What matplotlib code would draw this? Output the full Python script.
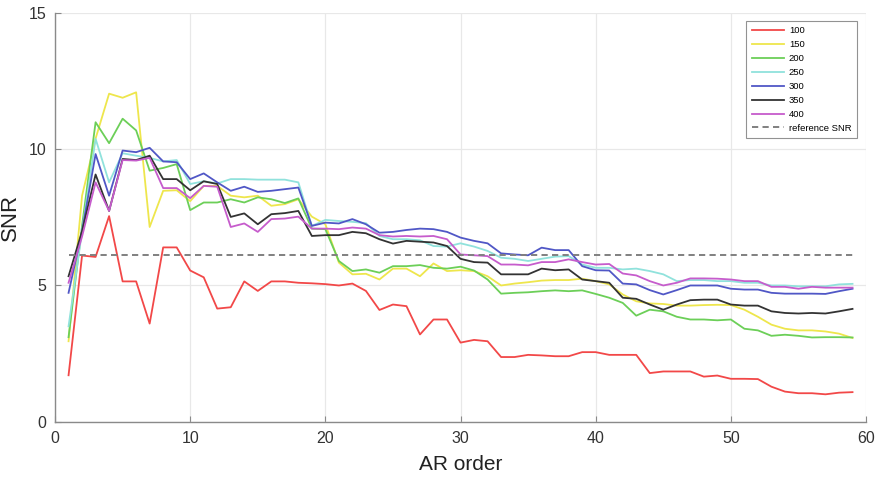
import numpy as np
import matplotlib
matplotlib.use("Agg")
import matplotlib.pyplot as plt

plt.rcParams['font.family'] = ['Liberation Sans', 'DejaVu Sans']

ar_order = list(range(1, 60))

snr_100 = [1.7, 6.1, 6.05, 7.55, 5.15, 5.15, 3.6, 6.4, 6.4, 5.55,
           5.3, 4.15, 4.2, 5.15, 4.8, 5.15, 5.15, 5.1, 5.08, 5.05,
           5.0, 5.07, 4.8, 4.1, 4.3, 4.24, 3.2, 3.75, 3.75, 2.9,
           3.0, 2.95, 2.37, 2.37, 2.45, 2.43, 2.4, 2.4, 2.55, 2.55,
           2.45, 2.45, 2.45, 1.78, 1.84, 1.84, 1.84, 1.65, 1.69, 1.57,
           1.57, 1.56, 1.28, 1.1, 1.04, 1.04, 1.0, 1.06, 1.08]
snr_150 = [2.95, 8.3, 10.4, 12.05, 11.9, 12.1, 7.15, 8.48, 8.5, 8.1,
           8.66, 8.66, 8.3, 8.24, 8.3, 7.93, 7.99, 8.17, 7.53, 7.25,
           5.84, 5.41, 5.43, 5.22, 5.62, 5.62, 5.34, 5.81, 5.53, 5.56,
           5.53, 5.34, 5.0, 5.07, 5.12, 5.18, 5.2, 5.2, 5.25, 5.16,
           5.04, 4.67, 4.42, 4.34, 4.32, 4.26, 4.26, 4.28, 4.29, 4.28,
           4.11, 3.85, 3.56, 3.41, 3.35, 3.35, 3.31, 3.23, 3.07]
snr_200 = [3.1, 7.2, 11.0, 10.23, 11.13, 10.7, 9.22, 9.32, 9.46, 7.77,
           8.05, 8.05, 8.17, 8.05, 8.24, 8.17, 8.03, 8.2, 7.09, 7.07,
           5.9, 5.53, 5.59, 5.47, 5.71, 5.71, 5.75, 5.65, 5.62, 5.69,
           5.55, 5.22, 4.7, 4.73, 4.75, 4.79, 4.82, 4.79, 4.82, 4.69,
           4.55, 4.36, 3.89, 4.11, 4.05, 3.85, 3.75, 3.75, 3.72, 3.75,
           3.41, 3.35, 3.15, 3.19, 3.15, 3.09, 3.1, 3.1, 3.09]
snr_250 = [3.5, 7.0, 10.39, 8.79, 9.86, 9.77, 9.69, 9.56, 9.61, 8.73,
           8.83, 8.75, 8.91, 8.91, 8.89, 8.89, 8.89, 8.79, 7.19, 7.41,
           7.37, 7.34, 7.29, 6.82, 6.7, 6.7, 6.66, 6.45, 6.43, 6.55,
           6.43, 6.27, 6.02, 5.98, 5.9, 5.98, 6.06, 6.08, 5.77, 5.65,
           5.65, 5.59, 5.62, 5.53, 5.41, 5.16, 5.2, 5.2, 5.16, 5.16,
           5.1, 5.1, 5.0, 5.0, 4.97, 4.97, 4.97, 5.04, 5.06]
snr_300 = [4.73, 7.0, 9.83, 8.3, 9.96, 9.9, 10.06, 9.56, 9.53, 8.91,
           9.12, 8.79, 8.48, 8.63, 8.44, 8.48, 8.54, 8.6, 7.19, 7.31,
           7.28, 7.44, 7.25, 6.94, 6.97, 7.04, 7.09, 7.07, 6.97, 6.76,
           6.64, 6.55, 6.18, 6.14, 6.11, 6.39, 6.3, 6.3, 5.71, 5.56,
           5.55, 5.07, 5.04, 4.83, 4.67, 4.83, 5.0, 5.0, 5.0, 4.88,
           4.85, 4.85, 4.73, 4.7, 4.7, 4.7, 4.69, 4.79, 4.88]
snr_350 = [5.34, 7.0, 9.08, 7.74, 9.65, 9.61, 9.77, 8.91, 8.91, 8.5,
           8.83, 8.73, 7.52, 7.65, 7.25, 7.62, 7.66, 7.74, 6.82, 6.85,
           6.85, 6.97, 6.92, 6.7, 6.54, 6.64, 6.61, 6.58, 6.45, 5.98,
           5.86, 5.84, 5.41, 5.41, 5.41, 5.62, 5.56, 5.59, 5.22, 5.16,
           5.1, 4.55, 4.51, 4.3, 4.11, 4.3, 4.46, 4.48, 4.48, 4.3,
           4.26, 4.26, 4.05, 3.99, 3.97, 3.99, 3.97, 4.05, 4.14]
snr_400 = [5.1, 6.8, 8.79, 7.74, 9.61, 9.59, 9.69, 8.58, 8.58, 8.21,
           8.66, 8.63, 7.15, 7.28, 6.97, 7.44, 7.46, 7.53, 7.09, 7.09,
           7.07, 7.13, 7.09, 6.85, 6.8, 6.82, 6.8, 6.82, 6.7, 6.14,
           6.11, 6.08, 5.77, 5.77, 5.74, 5.86, 5.86, 5.96, 5.86, 5.77,
           5.79, 5.44, 5.37, 5.16, 5.0, 5.1, 5.26, 5.26, 5.25, 5.22,
           5.16, 5.16, 4.95, 4.95, 4.88, 4.95, 4.92, 4.92, 4.92]

series_labels = ['100', '150', '200', '250', '300', '350', '400']
series_colors = ['#f24848', '#eee64c', '#6ccf58', '#90e2dc', '#5057c6', '#333333', '#c65ccc']
reference_snr = 6.12
reference_label = 'reference SNR'

x_ticks = [0, 10, 20, 30, 40, 50, 60]
y_ticks = [0, 5, 10, 15]

fig = plt.figure(figsize=(8.82, 4.79), dpi=100)
ax = fig.add_axes([0.0624, 0.120, 0.9195, 0.852])

all_series = [snr_100, snr_150, snr_200, snr_250, snr_300, snr_350, snr_400]
for vals, lab, col in zip(all_series, series_labels, series_colors):
    ax.plot(ar_order, vals, color=col, lw=1.3, label=lab)

ax.plot([ar_order[0], ar_order[-1]], [reference_snr, reference_snr],
        color='#808080', lw=1.4, linestyle=(0, (3.2, 2.2)), label=reference_label)

ax.set_xlim(0, 60)
ax.set_ylim(0, 15)
ax.set_xticks(x_ticks)
ax.set_yticks(y_ticks)
ax.grid(True, color='#e8e8e8', lw=0.9)
ax.set_axisbelow(True)
for s in ['top', 'right']:
    ax.spines[s].set_visible(False)
for s in ['left', 'bottom']:
    ax.spines[s].set_color('#8a8a8a')
    ax.spines[s].set_linewidth(1.0)
ax.tick_params(direction='in', length=4, width=0.8, color='#8a8a8a',
               labelsize=11.5, labelcolor='#333333')
ax.tick_params(axis='x', pad=7)
ax.tick_params(axis='y', pad=6)
ax.set_xlabel('AR order', fontsize=15, color='#222222', labelpad=6)
ax.set_ylabel('SNR', fontsize=16, color='#222222', labelpad=6)

leg = ax.legend(loc='upper right', bbox_to_anchor=(0.989, 0.982), borderaxespad=0,
                fontsize=6.8, handlelength=3.4, handletextpad=0.5, labelspacing=0.52,
                frameon=True, fancybox=False, borderpad=0.6)
leg.get_frame().set_edgecolor('#777777')
leg.get_frame().set_linewidth(0.8)

fig.savefig('out.png', dpi=100)
